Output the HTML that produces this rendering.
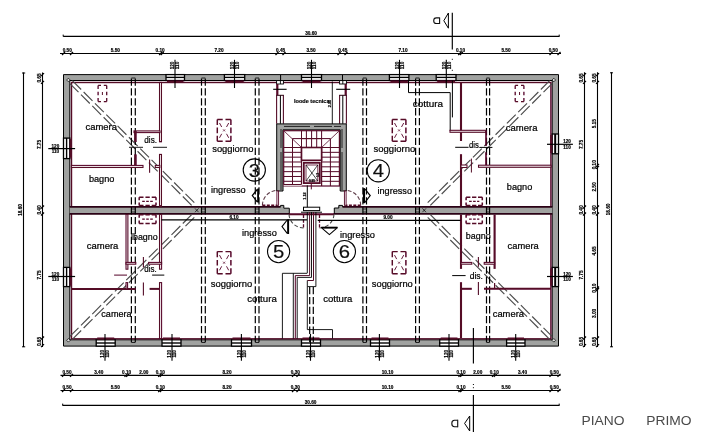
<!DOCTYPE html>
<html><head><meta charset="utf-8"><title>Piano Primo</title>
<style>
html,body{margin:0;padding:0;background:#fff;}
body{width:711px;height:436px;overflow:hidden;}
svg{display:block;font-family:"Liberation Sans",sans-serif;}
</style></head><body>
<svg width="711" height="436" viewBox="0 0 711 436">
<defs><filter id="soft" x="0" y="0" width="711" height="436" filterUnits="userSpaceOnUse"><feGaussianBlur stdDeviation="0.32"/></filter></defs>
<rect width="711" height="436" fill="#fff"/>
<g filter="url(#soft)">
<path d="M63.5,74.6H558.5V346.1H63.5Z M69.8,80.5V339.8H552.2V80.5Z" fill="#a0a2a0" fill-rule="evenodd" stroke="#000" stroke-width="1"/>
<rect x="71.5" y="82.5" width="479.4" height="256.3" fill="none" stroke="#540827" stroke-width="1.4"/>
<path d="M69.7,207 H280.6 V205.4 H283.8 V208.2 H289.3 V213.4 H69.7 Z" fill="#a0a2a0"/>
<path d="M552.3,207 H342.5 V205.4 H338.8 V208 H334.3 V213.4 H552.3 Z" fill="#a0a2a0"/>
<line x1="69.7" y1="206.8" x2="280.6" y2="206.8" stroke="#2a0512" stroke-width="1.8" />
<line x1="69.7" y1="213.8" x2="290" y2="213.8" stroke="#2a0512" stroke-width="1.8" />
<line x1="342.5" y1="206.8" x2="552.3" y2="206.8" stroke="#2a0512" stroke-width="1.8" />
<line x1="333.5" y1="213.8" x2="552.3" y2="213.8" stroke="#2a0512" stroke-width="1.8" />
<path d="M280.6,206.8 V205.4 H283.8 V208.2 H289.3 V213.5" fill="none" stroke="#000" stroke-width="1"/>
<path d="M342.5,206.8 V205.4 H338.8 V208 H334.3 V213.5" fill="none" stroke="#000" stroke-width="1"/>
<line x1="289" y1="214.3" x2="334" y2="214.3" stroke="#540827" stroke-width="2" />
<rect x="166" y="74.6" width="18.5" height="5.900000000000006" fill="#fff" stroke="#000" stroke-width="1.3" />
<line x1="166" y1="77.4" x2="184.5" y2="77.4" stroke="#000" stroke-width="1.4" />
<line x1="167" y1="81.6" x2="183.5" y2="81.6" stroke="#540827" stroke-width="2.2" />
<line x1="175" y1="59.8" x2="175" y2="88" stroke="#000" stroke-width="1.1" />
<text transform="translate(174.3,65.5) rotate(-90)" font-size="4.6" text-anchor="middle" fill="#000" font-weight="bold" stroke="#000" stroke-width="0.18">120</text>
<text transform="translate(179.2,65.5) rotate(-90)" font-size="4.6" text-anchor="middle" fill="#000" font-weight="bold" stroke="#000" stroke-width="0.18">110</text>
<rect x="224.4" y="74.6" width="20.299999999999983" height="5.900000000000006" fill="#fff" stroke="#000" stroke-width="1.3" />
<line x1="224.4" y1="77.4" x2="244.7" y2="77.4" stroke="#000" stroke-width="1.4" />
<line x1="225.4" y1="81.6" x2="243.7" y2="81.6" stroke="#540827" stroke-width="2.2" />
<line x1="234.5" y1="59.8" x2="234.5" y2="88" stroke="#000" stroke-width="1.1" />
<text transform="translate(233.8,65.5) rotate(-90)" font-size="4.6" text-anchor="middle" fill="#000" font-weight="bold" stroke="#000" stroke-width="0.18">120</text>
<text transform="translate(238.7,65.5) rotate(-90)" font-size="4.6" text-anchor="middle" fill="#000" font-weight="bold" stroke="#000" stroke-width="0.18">110</text>
<rect x="301.5" y="74.6" width="20.0" height="5.900000000000006" fill="#fff" stroke="#000" stroke-width="1.3" />
<line x1="301.5" y1="77.4" x2="321.5" y2="77.4" stroke="#000" stroke-width="1.4" />
<line x1="302.5" y1="81.6" x2="320.5" y2="81.6" stroke="#540827" stroke-width="2.2" />
<line x1="311.5" y1="59.8" x2="311.5" y2="88" stroke="#000" stroke-width="1.1" />
<text transform="translate(310.8,65.5) rotate(-90)" font-size="4.6" text-anchor="middle" fill="#000" font-weight="bold" stroke="#000" stroke-width="0.18">120</text>
<text transform="translate(315.7,65.5) rotate(-90)" font-size="4.6" text-anchor="middle" fill="#000" font-weight="bold" stroke="#000" stroke-width="0.18">110</text>
<rect x="389.4" y="74.6" width="19.5" height="5.900000000000006" fill="#fff" stroke="#000" stroke-width="1.3" />
<line x1="389.4" y1="77.4" x2="408.9" y2="77.4" stroke="#000" stroke-width="1.4" />
<line x1="390.4" y1="81.6" x2="407.9" y2="81.6" stroke="#540827" stroke-width="2.2" />
<line x1="399.5" y1="59.8" x2="399.5" y2="88" stroke="#000" stroke-width="1.1" />
<text transform="translate(398.8,65.5) rotate(-90)" font-size="4.6" text-anchor="middle" fill="#000" font-weight="bold" stroke="#000" stroke-width="0.18">120</text>
<text transform="translate(403.7,65.5) rotate(-90)" font-size="4.6" text-anchor="middle" fill="#000" font-weight="bold" stroke="#000" stroke-width="0.18">110</text>
<rect x="436.2" y="74.6" width="19.80000000000001" height="5.900000000000006" fill="#fff" stroke="#000" stroke-width="1.3" />
<line x1="436.2" y1="77.4" x2="456" y2="77.4" stroke="#000" stroke-width="1.4" />
<line x1="437.2" y1="81.6" x2="455" y2="81.6" stroke="#540827" stroke-width="2.2" />
<line x1="446.3" y1="59.8" x2="446.3" y2="88" stroke="#000" stroke-width="1.1" />
<text transform="translate(445.6,65.5) rotate(-90)" font-size="4.6" text-anchor="middle" fill="#000" font-weight="bold" stroke="#000" stroke-width="0.18">120</text>
<text transform="translate(450.5,65.5) rotate(-90)" font-size="4.6" text-anchor="middle" fill="#000" font-weight="bold" stroke="#000" stroke-width="0.18">110</text>
<rect x="96.2" y="339.8" width="19.0" height="6.300000000000011" fill="#fff" stroke="#000" stroke-width="1.3" />
<line x1="96.2" y1="343" x2="115.2" y2="343" stroke="#000" stroke-width="1.4" />
<line x1="97.2" y1="338.6" x2="114.2" y2="338.6" stroke="#540827" stroke-width="2.2" />
<line x1="105" y1="334" x2="105" y2="360.8" stroke="#000" stroke-width="1.1" />
<text transform="translate(104.3,353.8) rotate(-90)" font-size="4.6" text-anchor="middle" fill="#000" font-weight="bold" stroke="#000" stroke-width="0.18">120</text>
<text transform="translate(109.2,353.8) rotate(-90)" font-size="4.6" text-anchor="middle" fill="#000" font-weight="bold" stroke="#000" stroke-width="0.18">110</text>
<rect x="162" y="339.8" width="19" height="6.300000000000011" fill="#fff" stroke="#000" stroke-width="1.3" />
<line x1="162" y1="343" x2="181" y2="343" stroke="#000" stroke-width="1.4" />
<line x1="163" y1="338.6" x2="180" y2="338.6" stroke="#540827" stroke-width="2.2" />
<line x1="172" y1="334" x2="172" y2="360.8" stroke="#000" stroke-width="1.1" />
<text transform="translate(171.3,353.8) rotate(-90)" font-size="4.6" text-anchor="middle" fill="#000" font-weight="bold" stroke="#000" stroke-width="0.18">120</text>
<text transform="translate(176.2,353.8) rotate(-90)" font-size="4.6" text-anchor="middle" fill="#000" font-weight="bold" stroke="#000" stroke-width="0.18">110</text>
<rect x="231.5" y="339.8" width="20.0" height="6.300000000000011" fill="#fff" stroke="#000" stroke-width="1.3" />
<line x1="231.5" y1="343" x2="251.5" y2="343" stroke="#000" stroke-width="1.4" />
<line x1="232.5" y1="338.6" x2="250.5" y2="338.6" stroke="#540827" stroke-width="2.2" />
<line x1="241.4" y1="334" x2="241.4" y2="360.8" stroke="#000" stroke-width="1.1" />
<text transform="translate(240.70000000000002,353.8) rotate(-90)" font-size="4.6" text-anchor="middle" fill="#000" font-weight="bold" stroke="#000" stroke-width="0.18">120</text>
<text transform="translate(245.6,353.8) rotate(-90)" font-size="4.6" text-anchor="middle" fill="#000" font-weight="bold" stroke="#000" stroke-width="0.18">110</text>
<rect x="301.5" y="339.8" width="19.0" height="6.300000000000011" fill="#fff" stroke="#000" stroke-width="1.3" />
<line x1="301.5" y1="343" x2="320.5" y2="343" stroke="#000" stroke-width="1.4" />
<line x1="302.5" y1="338.6" x2="319.5" y2="338.6" stroke="#540827" stroke-width="2.2" />
<line x1="310.5" y1="334" x2="310.5" y2="360.8" stroke="#000" stroke-width="1.1" />
<text transform="translate(309.8,353.8) rotate(-90)" font-size="4.6" text-anchor="middle" fill="#000" font-weight="bold" stroke="#000" stroke-width="0.18">120</text>
<text transform="translate(314.7,353.8) rotate(-90)" font-size="4.6" text-anchor="middle" fill="#000" font-weight="bold" stroke="#000" stroke-width="0.18">110</text>
<rect x="370.5" y="339.8" width="19.0" height="6.300000000000011" fill="#fff" stroke="#000" stroke-width="1.3" />
<line x1="370.5" y1="343" x2="389.5" y2="343" stroke="#000" stroke-width="1.4" />
<line x1="371.5" y1="338.6" x2="388.5" y2="338.6" stroke="#540827" stroke-width="2.2" />
<line x1="379.4" y1="334" x2="379.4" y2="360.8" stroke="#000" stroke-width="1.1" />
<text transform="translate(378.7,353.8) rotate(-90)" font-size="4.6" text-anchor="middle" fill="#000" font-weight="bold" stroke="#000" stroke-width="0.18">120</text>
<text transform="translate(383.59999999999997,353.8) rotate(-90)" font-size="4.6" text-anchor="middle" fill="#000" font-weight="bold" stroke="#000" stroke-width="0.18">110</text>
<rect x="439.7" y="339.8" width="18.80000000000001" height="6.300000000000011" fill="#fff" stroke="#000" stroke-width="1.3" />
<line x1="439.7" y1="343" x2="458.5" y2="343" stroke="#000" stroke-width="1.4" />
<line x1="440.7" y1="338.6" x2="457.5" y2="338.6" stroke="#540827" stroke-width="2.2" />
<line x1="449" y1="334" x2="449" y2="360.8" stroke="#000" stroke-width="1.1" />
<text transform="translate(448.3,353.8) rotate(-90)" font-size="4.6" text-anchor="middle" fill="#000" font-weight="bold" stroke="#000" stroke-width="0.18">120</text>
<text transform="translate(453.2,353.8) rotate(-90)" font-size="4.6" text-anchor="middle" fill="#000" font-weight="bold" stroke="#000" stroke-width="0.18">110</text>
<rect x="506.6" y="339.8" width="18.399999999999977" height="6.300000000000011" fill="#fff" stroke="#000" stroke-width="1.3" />
<line x1="506.6" y1="343" x2="525" y2="343" stroke="#000" stroke-width="1.4" />
<line x1="507.6" y1="338.6" x2="524" y2="338.6" stroke="#540827" stroke-width="2.2" />
<line x1="515.7" y1="334" x2="515.7" y2="360.8" stroke="#000" stroke-width="1.1" />
<text transform="translate(515.0,353.8) rotate(-90)" font-size="4.6" text-anchor="middle" fill="#000" font-weight="bold" stroke="#000" stroke-width="0.18">120</text>
<text transform="translate(519.9000000000001,353.8) rotate(-90)" font-size="4.6" text-anchor="middle" fill="#000" font-weight="bold" stroke="#000" stroke-width="0.18">110</text>
<rect x="63.5" y="138.1" width="6.299999999999997" height="20.5" fill="#fff" stroke="#000" stroke-width="1.3" />
<line x1="66.6" y1="138.1" x2="66.6" y2="158.6" stroke="#000" stroke-width="1.4" />
<line x1="70.8" y1="139.1" x2="70.8" y2="157.6" stroke="#540827" stroke-width="2.2" />
<line x1="48.3" y1="148.6" x2="75.1" y2="148.6" stroke="#000" stroke-width="1.2" />
<text x="55.4" y="147.7" font-size="4.6" text-anchor="middle" fill="#000" font-weight="bold" stroke="#000" stroke-width="0.18" >120</text>
<text x="55.4" y="153.2" font-size="4.6" text-anchor="middle" fill="#000" font-weight="bold" stroke="#000" stroke-width="0.18" >110</text>
<rect x="63.5" y="267.4" width="6.299999999999997" height="19.200000000000045" fill="#fff" stroke="#000" stroke-width="1.3" />
<line x1="66.6" y1="267.4" x2="66.6" y2="286.6" stroke="#000" stroke-width="1.4" />
<line x1="70.8" y1="268.4" x2="70.8" y2="285.6" stroke="#540827" stroke-width="2.2" />
<line x1="48.3" y1="276.5" x2="75.1" y2="276.5" stroke="#000" stroke-width="1.2" />
<text x="55.4" y="275.6" font-size="4.6" text-anchor="middle" fill="#000" font-weight="bold" stroke="#000" stroke-width="0.18" >120</text>
<text x="55.4" y="281.1" font-size="4.6" text-anchor="middle" fill="#000" font-weight="bold" stroke="#000" stroke-width="0.18" >110</text>
<rect x="552.2" y="134" width="6.2999999999999545" height="19.80000000000001" fill="#fff" stroke="#000" stroke-width="1.3" />
<line x1="555.2" y1="134" x2="555.2" y2="153.8" stroke="#000" stroke-width="2" />
<line x1="551.2" y1="135" x2="551.2" y2="152.8" stroke="#540827" stroke-width="2.2" />
<line x1="547" y1="144.3" x2="572.9" y2="144.3" stroke="#000" stroke-width="1.2" />
<text x="567" y="143.4" font-size="4.6" text-anchor="middle" fill="#000" font-weight="bold" stroke="#000" stroke-width="0.18" >120</text>
<text x="567" y="148.9" font-size="4.6" text-anchor="middle" fill="#000" font-weight="bold" stroke="#000" stroke-width="0.18" >110</text>
<rect x="552.2" y="267.4" width="6.2999999999999545" height="19.200000000000045" fill="#fff" stroke="#000" stroke-width="1.3" />
<line x1="555.2" y1="267.4" x2="555.2" y2="286.6" stroke="#000" stroke-width="2" />
<line x1="551.2" y1="268.4" x2="551.2" y2="285.6" stroke="#540827" stroke-width="2.2" />
<line x1="547" y1="276.5" x2="572.9" y2="276.5" stroke="#000" stroke-width="1.2" />
<text x="567" y="275.6" font-size="4.6" text-anchor="middle" fill="#000" font-weight="bold" stroke="#000" stroke-width="0.18" >120</text>
<text x="567" y="281.1" font-size="4.6" text-anchor="middle" fill="#000" font-weight="bold" stroke="#000" stroke-width="0.18" >110</text>
<line x1="72.34" y1="80.66" x2="196.64" y2="204.96" stroke="#4c4c4c" stroke-width="1.15" stroke-dasharray="12.5 3.5"/>
<line x1="69.66" y1="83.34" x2="193.96" y2="207.64" stroke="#4c4c4c" stroke-width="1.15" stroke-dasharray="12.5 3.5"/>
<line x1="69.66" y1="336.66" x2="193.36" y2="212.96" stroke="#4c4c4c" stroke-width="1.15" stroke-dasharray="12.5 3.5"/>
<line x1="72.34" y1="339.34" x2="196.04" y2="215.64" stroke="#4c4c4c" stroke-width="1.15" stroke-dasharray="12.5 3.5"/>
<line x1="552.34" y1="83.34" x2="428.04" y2="207.64" stroke="#4c4c4c" stroke-width="1.15" stroke-dasharray="12.5 3.5"/>
<line x1="549.66" y1="80.66" x2="425.36" y2="204.96" stroke="#4c4c4c" stroke-width="1.15" stroke-dasharray="12.5 3.5"/>
<line x1="549.66" y1="339.34" x2="425.96" y2="215.64" stroke="#4c4c4c" stroke-width="1.15" stroke-dasharray="12.5 3.5"/>
<line x1="552.34" y1="336.66" x2="428.64" y2="212.96" stroke="#4c4c4c" stroke-width="1.15" stroke-dasharray="12.5 3.5"/>
<line x1="195.0" y1="208.4" x2="198.60000000000002" y2="212.2" stroke="#000" stroke-width="0.7" />
<line x1="198.60000000000002" y1="208.4" x2="195.0" y2="212.2" stroke="#000" stroke-width="0.7" />
<line x1="422.4" y1="208.4" x2="426.0" y2="212.2" stroke="#000" stroke-width="0.7" />
<line x1="426.0" y1="208.4" x2="422.4" y2="212.2" stroke="#000" stroke-width="0.7" />
<path d="M66.60000000000001,80L68.4,78.2L70.2,80L68.4,81.8Z" fill="#ddd" stroke="#000" stroke-width="0.7"/>
<path d="M66.60000000000001,340.3L68.4,338.5L70.2,340.3L68.4,342.1Z" fill="#ddd" stroke="#000" stroke-width="0.7"/>
<path d="M552.0,80L553.8,78.2L555.5999999999999,80L553.8,81.8Z" fill="#ddd" stroke="#000" stroke-width="0.7"/>
<path d="M552.0,340.3L553.8,338.5L555.5999999999999,340.3L553.8,342.1Z" fill="#ddd" stroke="#000" stroke-width="0.7"/>
<line x1="131.4" y1="78.4" x2="131.4" y2="342.2" stroke="#000" stroke-width="1.2" stroke-dasharray="7.3 2.6"/>
<line x1="135.3" y1="78.4" x2="135.3" y2="342.2" stroke="#000" stroke-width="1.2" stroke-dasharray="7.3 2.6"/>
<line x1="131.4" y1="78" x2="135.3" y2="78" stroke="#000" stroke-width="0.8" />
<line x1="131.4" y1="342.5" x2="135.3" y2="342.5" stroke="#000" stroke-width="0.8" />
<line x1="131.4" y1="209" x2="135.3" y2="209" stroke="#000" stroke-width="0.7" />
<line x1="131.4" y1="212" x2="135.3" y2="212" stroke="#000" stroke-width="0.7" />
<line x1="201.5" y1="78.4" x2="201.5" y2="342.2" stroke="#000" stroke-width="1.2" stroke-dasharray="7.3 2.6"/>
<line x1="205.3" y1="78.4" x2="205.3" y2="342.2" stroke="#000" stroke-width="1.2" stroke-dasharray="7.3 2.6"/>
<line x1="201.5" y1="78" x2="205.3" y2="78" stroke="#000" stroke-width="0.8" />
<line x1="201.5" y1="342.5" x2="205.3" y2="342.5" stroke="#000" stroke-width="0.8" />
<line x1="201.5" y1="209" x2="205.3" y2="209" stroke="#000" stroke-width="0.7" />
<line x1="201.5" y1="212" x2="205.3" y2="212" stroke="#000" stroke-width="0.7" />
<line x1="255.3" y1="78.4" x2="255.3" y2="342.2" stroke="#000" stroke-width="1.2" stroke-dasharray="7.3 2.6"/>
<line x1="259" y1="78.4" x2="259" y2="342.2" stroke="#000" stroke-width="1.2" stroke-dasharray="7.3 2.6"/>
<line x1="255.3" y1="78" x2="259" y2="78" stroke="#000" stroke-width="0.8" />
<line x1="255.3" y1="342.5" x2="259" y2="342.5" stroke="#000" stroke-width="0.8" />
<line x1="255.3" y1="209" x2="259" y2="209" stroke="#000" stroke-width="0.7" />
<line x1="255.3" y1="212" x2="259" y2="212" stroke="#000" stroke-width="0.7" />
<line x1="362.9" y1="78.4" x2="362.9" y2="342.2" stroke="#000" stroke-width="1.2" stroke-dasharray="7.3 2.6"/>
<line x1="366.5" y1="78.4" x2="366.5" y2="342.2" stroke="#000" stroke-width="1.2" stroke-dasharray="7.3 2.6"/>
<line x1="362.9" y1="78" x2="366.5" y2="78" stroke="#000" stroke-width="0.8" />
<line x1="362.9" y1="342.5" x2="366.5" y2="342.5" stroke="#000" stroke-width="0.8" />
<line x1="362.9" y1="209" x2="366.5" y2="209" stroke="#000" stroke-width="0.7" />
<line x1="362.9" y1="212" x2="366.5" y2="212" stroke="#000" stroke-width="0.7" />
<line x1="415.6" y1="78.4" x2="415.6" y2="342.2" stroke="#000" stroke-width="1.2" stroke-dasharray="7.3 2.6"/>
<line x1="419.4" y1="78.4" x2="419.4" y2="342.2" stroke="#000" stroke-width="1.2" stroke-dasharray="7.3 2.6"/>
<line x1="415.6" y1="78" x2="419.4" y2="78" stroke="#000" stroke-width="0.8" />
<line x1="415.6" y1="342.5" x2="419.4" y2="342.5" stroke="#000" stroke-width="0.8" />
<line x1="415.6" y1="209" x2="419.4" y2="209" stroke="#000" stroke-width="0.7" />
<line x1="415.6" y1="212" x2="419.4" y2="212" stroke="#000" stroke-width="0.7" />
<line x1="486.5" y1="78.4" x2="486.5" y2="342.2" stroke="#000" stroke-width="1.2" stroke-dasharray="7.3 2.6"/>
<line x1="489.6" y1="78.4" x2="489.6" y2="342.2" stroke="#000" stroke-width="1.2" stroke-dasharray="7.3 2.6"/>
<line x1="486.5" y1="78" x2="489.6" y2="78" stroke="#000" stroke-width="0.8" />
<line x1="486.5" y1="342.5" x2="489.6" y2="342.5" stroke="#000" stroke-width="0.8" />
<line x1="486.5" y1="209" x2="489.6" y2="209" stroke="#000" stroke-width="0.7" />
<line x1="486.5" y1="212" x2="489.6" y2="212" stroke="#000" stroke-width="0.7" />
<line x1="309.7" y1="287" x2="309.7" y2="342.2" stroke="#000" stroke-width="1.2" stroke-dasharray="7.3 2.6"/>
<line x1="313.3" y1="287" x2="313.3" y2="342.2" stroke="#000" stroke-width="1.2" stroke-dasharray="7.3 2.6"/>
<rect x="159.5" y="82.4" width="2.0" height="59.400000000000006" fill="#efe6e9" stroke="#540827" stroke-width="1.05" />
<rect x="159.5" y="154.4" width="2.0" height="52.099999999999994" fill="#efe6e9" stroke="#540827" stroke-width="1.05" />
<rect x="134" y="130.9" width="26" height="1.6999999999999886" fill="#efe6e9" stroke="#540827" stroke-width="1.05" />
<line x1="135.4" y1="131" x2="135.4" y2="142" stroke="#540827" stroke-width="2.6" />
<line x1="135.4" y1="154.4" x2="135.4" y2="165.4" stroke="#540827" stroke-width="2.6" />
<rect x="71.4" y="165.4" width="71.6" height="2.0999999999999943" fill="#efe6e9" stroke="#540827" stroke-width="1.05" />
<line x1="129" y1="147.3" x2="143" y2="147.3" stroke="#000" stroke-width="0.9" />
<line x1="153" y1="147.3" x2="167" y2="147.3" stroke="#000" stroke-width="0.9" />
<line x1="149.6" y1="159.4" x2="149.6" y2="172.7" stroke="#540827" stroke-width="1.1" />
<rect x="155.3" y="165.4" width="4.5" height="2.0999999999999943" fill="#efe6e9" stroke="#540827" stroke-width="1.05" />
<line x1="461" y1="82" x2="461" y2="141" stroke="#540827" stroke-width="2.1" />
<line x1="461" y1="154.2" x2="461" y2="206.5" stroke="#540827" stroke-width="2.1" />
<path d="M408.5,80.5 V92.6 H450.2 V131" fill="none" stroke="#000" stroke-width="1"/>
<line x1="452.4" y1="80.5" x2="452.4" y2="117.4" stroke="#000" stroke-width="1" />
<rect x="450" y="130.3" width="36" height="2.0" fill="#efe6e9" stroke="#540827" stroke-width="1.05" />
<line x1="486" y1="131" x2="486" y2="146" stroke="#540827" stroke-width="1.6" />
<line x1="486" y1="152.3" x2="486" y2="166.2" stroke="#540827" stroke-width="1.6" />
<rect x="478.5" y="165.2" width="72.5" height="2.1000000000000227" fill="#efe6e9" stroke="#540827" stroke-width="1.05" />
<rect x="461" y="165" width="6" height="2.5" fill="#fff" stroke="#540827" stroke-width="1" />
<line x1="455.2" y1="147.3" x2="468.6" y2="147.3" stroke="#000" stroke-width="1" />
<line x1="480" y1="147.4" x2="492.4" y2="147.4" stroke="#000" stroke-width="1" />
<line x1="471.4" y1="158.6" x2="471.4" y2="172.5" stroke="#540827" stroke-width="1" />
<rect x="126" y="214.5" width="1.9000000000000057" height="54.69999999999999" fill="#efe6e9" stroke="#540827" stroke-width="1.05" />
<rect x="159.5" y="214.5" width="2.0999999999999943" height="54.69999999999999" fill="#efe6e9" stroke="#540827" stroke-width="1.05" />
<rect x="126" y="262.4" width="9.800000000000011" height="1.8000000000000114" fill="#efe6e9" stroke="#540827" stroke-width="1.05" />
<rect x="148.6" y="262.4" width="13.0" height="1.8000000000000114" fill="#efe6e9" stroke="#540827" stroke-width="1.05" />
<line x1="71.4" y1="288.9" x2="135.8" y2="288.9" stroke="#540827" stroke-width="2" />
<line x1="149.6" y1="288.9" x2="159.5" y2="288.9" stroke="#540827" stroke-width="2" />
<rect x="159.5" y="282.6" width="2.0999999999999943" height="55.89999999999998" fill="#efe6e9" stroke="#540827" stroke-width="1.05" />
<rect x="126" y="282.6" width="1.5999999999999943" height="6.2999999999999545" fill="#efe6e9" stroke="#540827" stroke-width="1.05" />
<line x1="143.4" y1="282.6" x2="143.4" y2="295.6" stroke="#540827" stroke-width="1.1" />
<line x1="143.4" y1="257" x2="143.4" y2="267.2" stroke="#540827" stroke-width="1.1" />
<line x1="114.1" y1="275.1" x2="127" y2="275.1" stroke="#540827" stroke-width="1" />
<line x1="152.1" y1="275.1" x2="164.3" y2="275.1" stroke="#000" stroke-width="1" />
<line x1="461" y1="214.5" x2="461" y2="268.9" stroke="#540827" stroke-width="2.1" />
<line x1="494.6" y1="214.5" x2="494.6" y2="268.9" stroke="#540827" stroke-width="2.1" />
<rect x="461" y="262.4" width="10.800000000000011" height="1.8000000000000114" fill="#efe6e9" stroke="#540827" stroke-width="1.05" />
<rect x="484.2" y="262.4" width="10.400000000000034" height="1.8000000000000114" fill="#efe6e9" stroke="#540827" stroke-width="1.05" />
<line x1="461" y1="282.2" x2="461" y2="338" stroke="#540827" stroke-width="2.1" />
<line x1="461" y1="288.8" x2="471.8" y2="288.8" stroke="#540827" stroke-width="2" />
<line x1="484" y1="288.8" x2="551" y2="288.8" stroke="#540827" stroke-width="2" />
<line x1="494.6" y1="283" x2="494.6" y2="288.8" stroke="#540827" stroke-width="1.2" />
<line x1="478.4" y1="257" x2="478.4" y2="266.8" stroke="#540827" stroke-width="1.1" />
<line x1="478.4" y1="282" x2="478.4" y2="295" stroke="#540827" stroke-width="1.1" />
<line x1="452.2" y1="275.6" x2="465.6" y2="275.6" stroke="#000" stroke-width="1" />
<line x1="217.3" y1="119.5" x2="230.9" y2="119.5" stroke="#540827" stroke-width="1.45" stroke-dasharray="5.4 2.80"/>
<line x1="217.3" y1="141.3" x2="230.9" y2="141.3" stroke="#540827" stroke-width="1.45" stroke-dasharray="5.4 2.80"/>
<line x1="217.3" y1="119.5" x2="217.3" y2="141.3" stroke="#540827" stroke-width="1.45" stroke-dasharray="5.6 2.50"/>
<line x1="230.9" y1="119.5" x2="230.9" y2="141.3" stroke="#540827" stroke-width="1.45" stroke-dasharray="5.6 2.50"/>
<line x1="219.50000000000003" y1="123.0" x2="221.70000000000002" y2="127.0" stroke="#540827" stroke-width="0.9" />
<line x1="219.50000000000003" y1="137.8" x2="221.70000000000002" y2="133.8" stroke="#540827" stroke-width="0.9" />
<line x1="228.70000000000002" y1="123.0" x2="226.50000000000003" y2="127.0" stroke="#540827" stroke-width="0.9" />
<line x1="228.70000000000002" y1="137.8" x2="226.50000000000003" y2="133.8" stroke="#540827" stroke-width="0.9" />
<line x1="223.10000000000002" y1="129.4" x2="225.10000000000002" y2="131.4" stroke="#540827" stroke-width="0.7" />
<line x1="225.10000000000002" y1="129.4" x2="223.10000000000002" y2="131.4" stroke="#540827" stroke-width="0.7" />
<line x1="392.3" y1="119.5" x2="405.9" y2="119.5" stroke="#540827" stroke-width="1.45" stroke-dasharray="5.4 2.80"/>
<line x1="392.3" y1="141.3" x2="405.9" y2="141.3" stroke="#540827" stroke-width="1.45" stroke-dasharray="5.4 2.80"/>
<line x1="392.3" y1="119.5" x2="392.3" y2="141.3" stroke="#540827" stroke-width="1.45" stroke-dasharray="5.6 2.50"/>
<line x1="405.9" y1="119.5" x2="405.9" y2="141.3" stroke="#540827" stroke-width="1.45" stroke-dasharray="5.6 2.50"/>
<line x1="394.50000000000006" y1="123.0" x2="396.70000000000005" y2="127.0" stroke="#540827" stroke-width="0.9" />
<line x1="394.50000000000006" y1="137.8" x2="396.70000000000005" y2="133.8" stroke="#540827" stroke-width="0.9" />
<line x1="403.7" y1="123.0" x2="401.5" y2="127.0" stroke="#540827" stroke-width="0.9" />
<line x1="403.7" y1="137.8" x2="401.5" y2="133.8" stroke="#540827" stroke-width="0.9" />
<line x1="398.1" y1="129.4" x2="400.1" y2="131.4" stroke="#540827" stroke-width="0.7" />
<line x1="400.1" y1="129.4" x2="398.1" y2="131.4" stroke="#540827" stroke-width="0.7" />
<line x1="217.3" y1="251.6" x2="230.9" y2="251.6" stroke="#540827" stroke-width="1.45" stroke-dasharray="5.4 2.80"/>
<line x1="217.3" y1="273.8" x2="230.9" y2="273.8" stroke="#540827" stroke-width="1.45" stroke-dasharray="5.4 2.80"/>
<line x1="217.3" y1="251.6" x2="217.3" y2="273.8" stroke="#540827" stroke-width="1.45" stroke-dasharray="5.6 2.70"/>
<line x1="230.9" y1="251.6" x2="230.9" y2="273.8" stroke="#540827" stroke-width="1.45" stroke-dasharray="5.6 2.70"/>
<line x1="219.50000000000003" y1="255.09999999999997" x2="221.70000000000002" y2="259.09999999999997" stroke="#540827" stroke-width="0.9" />
<line x1="219.50000000000003" y1="270.3" x2="221.70000000000002" y2="266.3" stroke="#540827" stroke-width="0.9" />
<line x1="228.70000000000002" y1="255.09999999999997" x2="226.50000000000003" y2="259.09999999999997" stroke="#540827" stroke-width="0.9" />
<line x1="228.70000000000002" y1="270.3" x2="226.50000000000003" y2="266.3" stroke="#540827" stroke-width="0.9" />
<line x1="223.10000000000002" y1="261.7" x2="225.10000000000002" y2="263.7" stroke="#540827" stroke-width="0.7" />
<line x1="225.10000000000002" y1="261.7" x2="223.10000000000002" y2="263.7" stroke="#540827" stroke-width="0.7" />
<line x1="392.3" y1="251.6" x2="405.9" y2="251.6" stroke="#540827" stroke-width="1.45" stroke-dasharray="5.4 2.80"/>
<line x1="392.3" y1="273.8" x2="405.9" y2="273.8" stroke="#540827" stroke-width="1.45" stroke-dasharray="5.4 2.80"/>
<line x1="392.3" y1="251.6" x2="392.3" y2="273.8" stroke="#540827" stroke-width="1.45" stroke-dasharray="5.6 2.70"/>
<line x1="405.9" y1="251.6" x2="405.9" y2="273.8" stroke="#540827" stroke-width="1.45" stroke-dasharray="5.6 2.70"/>
<line x1="394.50000000000006" y1="255.09999999999997" x2="396.70000000000005" y2="259.09999999999997" stroke="#540827" stroke-width="0.9" />
<line x1="394.50000000000006" y1="270.3" x2="396.70000000000005" y2="266.3" stroke="#540827" stroke-width="0.9" />
<line x1="403.7" y1="255.09999999999997" x2="401.5" y2="259.09999999999997" stroke="#540827" stroke-width="0.9" />
<line x1="403.7" y1="270.3" x2="401.5" y2="266.3" stroke="#540827" stroke-width="0.9" />
<line x1="398.1" y1="261.7" x2="400.1" y2="263.7" stroke="#540827" stroke-width="0.7" />
<line x1="400.1" y1="261.7" x2="398.1" y2="263.7" stroke="#540827" stroke-width="0.7" />
<line x1="98.1" y1="85.4" x2="106.7" y2="85.4" stroke="#540827" stroke-width="1.3" stroke-dasharray="2.9 2.80"/>
<line x1="98.1" y1="101.6" x2="106.7" y2="101.6" stroke="#540827" stroke-width="1.3" stroke-dasharray="2.9 2.80"/>
<line x1="98.1" y1="85.4" x2="98.1" y2="101.6" stroke="#540827" stroke-width="1.3" stroke-dasharray="3.6 2.7"/>
<line x1="106.7" y1="85.4" x2="106.7" y2="101.6" stroke="#540827" stroke-width="1.3" stroke-dasharray="3.6 2.7"/>
<line x1="102.4" y1="92" x2="102.4" y2="95" stroke="#540827" stroke-width="1" />
<line x1="515.2" y1="85.4" x2="523.9" y2="85.4" stroke="#540827" stroke-width="1.3" stroke-dasharray="2.9 2.90"/>
<line x1="515.2" y1="101.6" x2="523.9" y2="101.6" stroke="#540827" stroke-width="1.3" stroke-dasharray="2.9 2.90"/>
<line x1="515.2" y1="85.4" x2="515.2" y2="101.6" stroke="#540827" stroke-width="1.3" stroke-dasharray="3.6 2.7"/>
<line x1="523.9" y1="85.4" x2="523.9" y2="101.6" stroke="#540827" stroke-width="1.3" stroke-dasharray="3.6 2.7"/>
<line x1="519.55" y1="92" x2="519.55" y2="95" stroke="#540827" stroke-width="1" />
<line x1="139.2" y1="197.2" x2="156" y2="197.2" stroke="#540827" stroke-width="1.5" stroke-dasharray="4.3 1.95"/>
<line x1="139.2" y1="205.6" x2="156" y2="205.6" stroke="#540827" stroke-width="1.5" stroke-dasharray="4.3 1.95"/>
<line x1="139.2" y1="197.2" x2="139.2" y2="205.6" stroke="#540827" stroke-width="1.5" stroke-dasharray="3 2.40"/>
<line x1="156" y1="197.2" x2="156" y2="205.6" stroke="#540827" stroke-width="1.5" stroke-dasharray="3 2.40"/>
<line x1="142.2" y1="201.39999999999998" x2="153" y2="201.39999999999998" stroke="#540827" stroke-width="1.1" stroke-dasharray="2.6 1.4"/>
<line x1="139.2" y1="214.8" x2="156" y2="214.8" stroke="#540827" stroke-width="1.5" stroke-dasharray="4.3 1.95"/>
<line x1="139.2" y1="223.4" x2="156" y2="223.4" stroke="#540827" stroke-width="1.5" stroke-dasharray="4.3 1.95"/>
<line x1="139.2" y1="214.8" x2="139.2" y2="223.4" stroke="#540827" stroke-width="1.5" stroke-dasharray="3 2.60"/>
<line x1="156" y1="214.8" x2="156" y2="223.4" stroke="#540827" stroke-width="1.5" stroke-dasharray="3 2.60"/>
<line x1="142.2" y1="219.10000000000002" x2="153" y2="219.10000000000002" stroke="#540827" stroke-width="1.1" stroke-dasharray="2.6 1.4"/>
<line x1="466.1" y1="197.2" x2="482.3" y2="197.2" stroke="#540827" stroke-width="1.5" stroke-dasharray="4.3 1.65"/>
<line x1="466.1" y1="205.6" x2="482.3" y2="205.6" stroke="#540827" stroke-width="1.5" stroke-dasharray="4.3 1.65"/>
<line x1="466.1" y1="197.2" x2="466.1" y2="205.6" stroke="#540827" stroke-width="1.5" stroke-dasharray="3 2.40"/>
<line x1="482.3" y1="197.2" x2="482.3" y2="205.6" stroke="#540827" stroke-width="1.5" stroke-dasharray="3 2.40"/>
<line x1="469.1" y1="201.39999999999998" x2="479.3" y2="201.39999999999998" stroke="#540827" stroke-width="1.1" stroke-dasharray="2.6 1.4"/>
<line x1="466.1" y1="214.8" x2="482.3" y2="214.8" stroke="#540827" stroke-width="1.5" stroke-dasharray="4.3 1.65"/>
<line x1="466.1" y1="223.4" x2="482.3" y2="223.4" stroke="#540827" stroke-width="1.5" stroke-dasharray="4.3 1.65"/>
<line x1="466.1" y1="214.8" x2="466.1" y2="223.4" stroke="#540827" stroke-width="1.5" stroke-dasharray="3 2.60"/>
<line x1="482.3" y1="214.8" x2="482.3" y2="223.4" stroke="#540827" stroke-width="1.5" stroke-dasharray="3 2.60"/>
<line x1="469.1" y1="219.10000000000002" x2="479.3" y2="219.10000000000002" stroke="#540827" stroke-width="1.1" stroke-dasharray="2.6 1.4"/>
<line x1="276.6" y1="95.2" x2="276.6" y2="123.8" stroke="#540827" stroke-width="1.1" />
<line x1="283.4" y1="95.2" x2="283.4" y2="123.8" stroke="#540827" stroke-width="1.1" />
<line x1="280.4" y1="95.2" x2="280.4" y2="123.8" stroke="#000" stroke-width="1" />
<line x1="276.1" y1="95.3" x2="283.9" y2="95.3" stroke="#2a0512" stroke-width="1" />
<rect x="276.6" y="80.6" width="6.7999999999999545" height="3.4" fill="#fff" stroke="#000" stroke-width="0.9" />
<line x1="280.4" y1="80.6" x2="280.4" y2="84" stroke="#000" stroke-width="0.9" />
<line x1="277.3" y1="84" x2="277.3" y2="95.2" stroke="#540827" stroke-width="2.2" />
<line x1="339.6" y1="95.2" x2="339.6" y2="123.8" stroke="#540827" stroke-width="1.1" />
<line x1="346.4" y1="95.2" x2="346.4" y2="123.8" stroke="#540827" stroke-width="1.1" />
<line x1="342.8" y1="95.2" x2="342.8" y2="123.8" stroke="#000" stroke-width="1" />
<line x1="339.1" y1="95.3" x2="346.9" y2="95.3" stroke="#2a0512" stroke-width="1" />
<rect x="339.6" y="80.6" width="6.7999999999999545" height="3.4" fill="#fff" stroke="#000" stroke-width="0.9" />
<line x1="342.8" y1="80.6" x2="342.8" y2="84" stroke="#000" stroke-width="0.9" />
<line x1="345.7" y1="84" x2="345.7" y2="95.2" stroke="#540827" stroke-width="2.2" />
<line x1="273.2" y1="89.3" x2="286.6" y2="89.3" stroke="#000" stroke-width="1.1" />
<line x1="336.2" y1="89.3" x2="350.2" y2="89.3" stroke="#000" stroke-width="1.1" />
<line x1="280.6" y1="75" x2="280.6" y2="80.5" stroke="#000" stroke-width="1" />
<line x1="342.5" y1="75" x2="342.5" y2="80.5" stroke="#000" stroke-width="1" />
<line x1="332.3" y1="81.5" x2="332.3" y2="125" stroke="#000" stroke-width="0.9" />
<path d="M276.7,123.9 H346.3 V191 H340.2 V129.8 H283 V191 H276.7 Z" fill="#a0a2a0" stroke="#000" stroke-width="1"/>
<line x1="281" y1="129" x2="281" y2="148" stroke="#000" stroke-width="0.8" />
<line x1="281" y1="152" x2="281" y2="190" stroke="#000" stroke-width="0.8" />
<line x1="342" y1="129" x2="342" y2="148" stroke="#000" stroke-width="0.8" />
<line x1="342" y1="152" x2="342" y2="190" stroke="#000" stroke-width="0.8" />
<line x1="284" y1="126.4" x2="310" y2="126.4" stroke="#000" stroke-width="0.8" />
<line x1="314" y1="126.4" x2="332" y2="126.4" stroke="#000" stroke-width="0.8" />
<line x1="334" y1="126.4" x2="341" y2="126.4" stroke="#000" stroke-width="0.8" />
<rect x="283.7" y="130.7" width="55.69999999999999" height="55.30000000000001" fill="#fff" stroke="#540827" stroke-width="1.2" />
<path d="M292.5,184.6 V138.6 H330.4 V186" fill="none" stroke="#540827" stroke-width="1"/>
<line x1="301.5" y1="130.7" x2="301.5" y2="147.5" stroke="#540827" stroke-width="1" />
<line x1="306.4" y1="130.7" x2="306.4" y2="147.5" stroke="#540827" stroke-width="1" />
<line x1="311.6" y1="130.7" x2="311.6" y2="147.5" stroke="#540827" stroke-width="1" />
<line x1="316.7" y1="130.7" x2="316.7" y2="147.5" stroke="#540827" stroke-width="1" />
<line x1="321.6" y1="130.7" x2="321.6" y2="147.5" stroke="#540827" stroke-width="1" />
<line x1="301.5" y1="138.6" x2="321.6" y2="138.6" stroke="#540827" stroke-width="1" />
<line x1="283.7" y1="147.5" x2="301.5" y2="147.5" stroke="#540827" stroke-width="1" />
<line x1="321.6" y1="147.5" x2="339.4" y2="147.5" stroke="#540827" stroke-width="1" />
<line x1="283.7" y1="152.33" x2="301.5" y2="152.33" stroke="#540827" stroke-width="1" />
<line x1="321.6" y1="152.33" x2="339.4" y2="152.33" stroke="#540827" stroke-width="1" />
<line x1="283.7" y1="157.16000000000003" x2="301.5" y2="157.16000000000003" stroke="#540827" stroke-width="1" />
<line x1="321.6" y1="157.16000000000003" x2="339.4" y2="157.16000000000003" stroke="#540827" stroke-width="1" />
<line x1="283.7" y1="161.99000000000004" x2="301.5" y2="161.99000000000004" stroke="#540827" stroke-width="1" />
<line x1="321.6" y1="161.99000000000004" x2="339.4" y2="161.99000000000004" stroke="#540827" stroke-width="1" />
<line x1="283.7" y1="166.82000000000005" x2="301.5" y2="166.82000000000005" stroke="#540827" stroke-width="1" />
<line x1="321.6" y1="166.82000000000005" x2="339.4" y2="166.82000000000005" stroke="#540827" stroke-width="1" />
<line x1="283.7" y1="171.65000000000006" x2="301.5" y2="171.65000000000006" stroke="#540827" stroke-width="1" />
<line x1="321.6" y1="171.65000000000006" x2="339.4" y2="171.65000000000006" stroke="#540827" stroke-width="1" />
<line x1="283.7" y1="176.48000000000008" x2="301.5" y2="176.48000000000008" stroke="#540827" stroke-width="1" />
<line x1="321.6" y1="176.48000000000008" x2="339.4" y2="176.48000000000008" stroke="#540827" stroke-width="1" />
<line x1="283.7" y1="181.3100000000001" x2="301.5" y2="181.3100000000001" stroke="#540827" stroke-width="1" />
<line x1="321.6" y1="181.3100000000001" x2="339.4" y2="181.3100000000001" stroke="#540827" stroke-width="1" />
<line x1="301.5" y1="147.5" x2="301.5" y2="184.6" stroke="#540827" stroke-width="1.2" />
<line x1="321.6" y1="147.5" x2="321.6" y2="186" stroke="#540827" stroke-width="1.2" />
<line x1="284.2" y1="131.2" x2="301.5" y2="147.5" stroke="#540827" stroke-width="0.8" />
<line x1="338.9" y1="131.2" x2="321.6" y2="147.5" stroke="#540827" stroke-width="0.8" />
<rect x="283.7" y="184.6" width="18" height="1.6" fill="#fff" stroke="none" stroke-width="1" />
<line x1="283.7" y1="184.6" x2="301.5" y2="184.6" stroke="#540827" stroke-width="1.2" />
<rect x="301.5" y="147.5" width="20.1" height="12.8" fill="#fff" stroke="#540827" stroke-width="1.6" />
<rect x="303.8" y="162.8" width="16" height="20.3" fill="#fff" stroke="#540827" stroke-width="1.8" />
<rect x="306" y="165" width="11.8" height="16" fill="#fff" stroke="#540827" stroke-width="0.8" />
<line x1="306" y1="165" x2="317.8" y2="181" stroke="#000" stroke-width="0.7" />
<line x1="317.8" y1="165" x2="306" y2="181" stroke="#000" stroke-width="0.7" />
<text x="312" y="182.3" font-size="3" text-anchor="middle" fill="#000" font-weight="bold" stroke="#000" stroke-width="0.18" >0.95</text>
<text transform="translate(318.6,175) rotate(-90)" font-size="3" text-anchor="middle" fill="#000" font-weight="bold" stroke="#000" stroke-width="0.18">1.2</text>
<line x1="307.3" y1="185.4" x2="307.3" y2="208" stroke="#000" stroke-width="1" />
<text transform="translate(305.6,196) rotate(-90)" font-size="3.8" text-anchor="middle" fill="#000" font-weight="bold" stroke="#000" stroke-width="0.18">1.18</text>
<line x1="311.3" y1="183.5" x2="311.3" y2="189.4" stroke="#540827" stroke-width="1" />
<path d="M262.40000000000003,205.4 A15.2,15.2 0 0 1 277.6,190.4" fill="none" stroke="#5a3844" stroke-width="1.05" stroke-dasharray="3.8 2"/>
<line x1="262.40000000000003" y1="205.3" x2="277.6" y2="205.3" stroke="#540827" stroke-width="1.5" stroke-dasharray="3 1.4"/>
<path d="M360.7,205.4 A15.2,15.2 0 0 0 345.5,190.4" fill="none" stroke="#5a3844" stroke-width="1.05" stroke-dasharray="3.8 2"/>
<line x1="360.7" y1="205.3" x2="345.5" y2="205.3" stroke="#540827" stroke-width="1.5" stroke-dasharray="3 1.4"/>
<rect x="276.9" y="191" width="1.7" height="14.3" fill="#fff" stroke="#540827" stroke-width="0.9" />
<rect x="344.4" y="191" width="1.7" height="14.3" fill="#fff" stroke="#540827" stroke-width="0.9" />
<path d="M289.0,214.5 A14.5,14.5 0 0 0 303.5,228" fill="none" stroke="#444" stroke-width="1.05" stroke-dasharray="3.8 2.2"/>
<line x1="303.5" y1="214.8" x2="303.5" y2="227.8" stroke="#540827" stroke-width="1.3" stroke-dasharray="3.2 1.5"/>
<path d="M334.0,214.5 A14.5,14.5 0 0 1 319.5,228" fill="none" stroke="#444" stroke-width="1.05" stroke-dasharray="3.8 2.2"/>
<line x1="319.5" y1="214.8" x2="319.5" y2="227.8" stroke="#540827" stroke-width="1.3" stroke-dasharray="3.2 1.5"/>
<rect x="303.5" y="207.2" width="16.2" height="3.4" fill="#fff" stroke="#000" stroke-width="1" />
<line x1="301" y1="212.2" x2="322" y2="212.2" stroke="#000" stroke-width="1" />
<line x1="307.3" y1="212" x2="307.3" y2="273" stroke="#000" stroke-width="0.9" />
<line x1="309.6" y1="212" x2="309.6" y2="273" stroke="#540827" stroke-width="1" />
<line x1="311.5" y1="212" x2="311.5" y2="273" stroke="#000" stroke-width="0.9" />
<line x1="313.5" y1="212" x2="313.5" y2="273" stroke="#540827" stroke-width="1" />
<line x1="315.9" y1="212" x2="315.9" y2="273" stroke="#000" stroke-width="0.9" />
<path d="M282.4,338.5 V273.3 H307.3" fill="none" stroke="#000" stroke-width="0.9"/>
<line x1="293.3" y1="273.3" x2="293.3" y2="338.5" stroke="#000" stroke-width="0.9" />
<path d="M309.6,273 V275.6 H295.3 V338.5" fill="none" stroke="#540827" stroke-width="1"/>
<path d="M311.5,273 V277.4 H297.2 V338.5" fill="none" stroke="#000" stroke-width="0.9"/>
<path d="M313.5,273 V280.5 H307.4" fill="none" stroke="#540827" stroke-width="1"/>
<path d="M315.9,273 V286.6 H307.3 V329.6 H332.5 V338.5" fill="none" stroke="#000" stroke-width="0.9"/>
<line x1="307.3" y1="280.5" x2="307.3" y2="286.6" stroke="#000" stroke-width="0.9" />
<line x1="161.4" y1="219.9" x2="307" y2="219.9" stroke="#000" stroke-width="1.1" />
<line x1="317.7" y1="220.4" x2="460.5" y2="220.4" stroke="#000" stroke-width="1.1" />
<text x="234" y="218.8" font-size="4.7" text-anchor="middle" fill="#000" font-weight="bold" stroke="#000" stroke-width="0.18" >6.10</text>
<text x="388" y="218.8" font-size="4.7" text-anchor="middle" fill="#000" font-weight="bold" stroke="#000" stroke-width="0.18" >9.00</text>
<path d="M258,189 V202.3 M257.2,189.5 L252.3,195.6 L257.2,201.8" fill="none" stroke="#000" stroke-width="1.2"/>
<line x1="258.2" y1="188.6" x2="258.2" y2="202.5" stroke="#000" stroke-width="1.6" />
<path d="M364.3,188.5 V203 M365,189 L370.2,195.6 L365,202.3" fill="none" stroke="#000" stroke-width="1.2"/>
<line x1="364" y1="188.2" x2="364" y2="203.2" stroke="#000" stroke-width="2.2" />
<path d="M288,219.4 V234 M287.2,220 L282,226.6 L287.2,233.4" fill="none" stroke="#000" stroke-width="1.1"/>
<line x1="288.2" y1="219.4" x2="288.2" y2="234" stroke="#000" stroke-width="1.8" />
<path d="M321.3,227.6 H337.5 M322.2,228.4 L329.4,234.6 L336.6,228.4" fill="none" stroke="#000" stroke-width="1.1"/>
<line x1="321.3" y1="227.6" x2="337.5" y2="227.6" stroke="#000" stroke-width="1.8" />
<circle cx="254.3" cy="170" r="11.1" fill="none" stroke="#000" stroke-width="1.1"/>
<text transform="translate(254.3,176.6) scale(1.1,1)" font-size="18.4" text-anchor="middle" fill="#111" stroke="#111" stroke-width="0.2">3</text>
<circle cx="378.3" cy="170.8" r="11.1" fill="none" stroke="#000" stroke-width="1.1"/>
<text transform="translate(378.3,177.4) scale(1.1,1)" font-size="18.4" text-anchor="middle" fill="#111" stroke="#111" stroke-width="0.2">4</text>
<circle cx="278.6" cy="251.6" r="11.1" fill="none" stroke="#000" stroke-width="1.1"/>
<text transform="translate(278.6,258.2) scale(1.1,1)" font-size="18.4" text-anchor="middle" fill="#111" stroke="#111" stroke-width="0.2">5</text>
<circle cx="344.4" cy="251.6" r="11.1" fill="none" stroke="#000" stroke-width="1.1"/>
<text transform="translate(344.4,258.2) scale(1.1,1)" font-size="18.4" text-anchor="middle" fill="#111" stroke="#111" stroke-width="0.2">6</text>
<text x="85.6" y="129.7" font-size="9.3" text-anchor="start" fill="#000" font-weight="normal" textLength="31.4" lengthAdjust="spacingAndGlyphs" stroke="#000" stroke-width="0.22" >camera</text>
<text x="88.9" y="181.6" font-size="9.3" text-anchor="start" fill="#000" font-weight="normal" textLength="25.5" lengthAdjust="spacingAndGlyphs" stroke="#000" stroke-width="0.22" >bagno</text>
<text x="144.3" y="142.5" font-size="9.3" text-anchor="start" fill="#000" font-weight="normal" textLength="12.7" lengthAdjust="spacingAndGlyphs" stroke="#000" stroke-width="0.22" >dis.</text>
<text x="212.2" y="151.7" font-size="9.3" text-anchor="start" fill="#000" font-weight="normal" textLength="41.2" lengthAdjust="spacingAndGlyphs" stroke="#000" stroke-width="0.22" >soggiorno</text>
<text x="210.9" y="193.1" font-size="9.3" text-anchor="start" fill="#000" font-weight="normal" textLength="34.7" lengthAdjust="spacingAndGlyphs" stroke="#000" stroke-width="0.22" >ingresso</text>
<text x="412.7" y="107.4" font-size="9.3" text-anchor="start" fill="#000" font-weight="normal" textLength="30.3" lengthAdjust="spacingAndGlyphs" stroke="#000" stroke-width="0.22" >cottura</text>
<text x="505.8" y="131.0" font-size="9.3" text-anchor="start" fill="#000" font-weight="normal" textLength="31.7" lengthAdjust="spacingAndGlyphs" stroke="#000" stroke-width="0.22" >camera</text>
<text x="468.9" y="147.9" font-size="9.3" text-anchor="start" fill="#000" font-weight="normal" textLength="12" lengthAdjust="spacingAndGlyphs" stroke="#000" stroke-width="0.22" >dis.</text>
<text x="373.6" y="151.7" font-size="9.3" text-anchor="start" fill="#000" font-weight="normal" textLength="41.6" lengthAdjust="spacingAndGlyphs" stroke="#000" stroke-width="0.22" >soggiorno</text>
<text x="377.5" y="194.2" font-size="9.3" text-anchor="start" fill="#000" font-weight="normal" textLength="34.5" lengthAdjust="spacingAndGlyphs" stroke="#000" stroke-width="0.22" >ingresso</text>
<text x="506.8" y="189.6" font-size="9.3" text-anchor="start" fill="#000" font-weight="normal" textLength="25.5" lengthAdjust="spacingAndGlyphs" stroke="#000" stroke-width="0.22" >bagno</text>
<text x="242" y="236.1" font-size="9.3" text-anchor="start" fill="#000" font-weight="normal" textLength="34.8" lengthAdjust="spacingAndGlyphs" stroke="#000" stroke-width="0.22" >ingresso</text>
<text x="340" y="238.2" font-size="9.3" text-anchor="start" fill="#000" font-weight="normal" textLength="35" lengthAdjust="spacingAndGlyphs" stroke="#000" stroke-width="0.22" >ingresso</text>
<text x="131" y="239.9" font-size="9.3" text-anchor="start" fill="#000" font-weight="normal" textLength="26.6" lengthAdjust="spacingAndGlyphs" stroke="#000" stroke-width="0.22" >lbagno</text>
<text x="86.7" y="249.3" font-size="9.3" text-anchor="start" fill="#000" font-weight="normal" textLength="31.7" lengthAdjust="spacingAndGlyphs" stroke="#000" stroke-width="0.22" >camera</text>
<text x="144.3" y="271.9" font-size="9.3" text-anchor="start" fill="#000" font-weight="normal" textLength="12.4" lengthAdjust="spacingAndGlyphs" stroke="#000" stroke-width="0.22" >dis.</text>
<text x="210.8" y="286.7" font-size="9.3" text-anchor="start" fill="#000" font-weight="normal" textLength="41.4" lengthAdjust="spacingAndGlyphs" stroke="#000" stroke-width="0.22" >soggiorno</text>
<text x="371.8" y="286.7" font-size="9.3" text-anchor="start" fill="#000" font-weight="normal" textLength="41" lengthAdjust="spacingAndGlyphs" stroke="#000" stroke-width="0.22" >soggiorno</text>
<text x="247.2" y="302.0" font-size="9.3" text-anchor="start" fill="#000" font-weight="normal" textLength="29.6" lengthAdjust="spacingAndGlyphs" stroke="#000" stroke-width="0.22" >cottura</text>
<text x="323.2" y="302.0" font-size="9.3" text-anchor="start" fill="#000" font-weight="normal" textLength="29.2" lengthAdjust="spacingAndGlyphs" stroke="#000" stroke-width="0.22" >cottura</text>
<text x="101.3" y="317.3" font-size="9.3" text-anchor="start" fill="#000" font-weight="normal" textLength="30.3" lengthAdjust="spacingAndGlyphs" stroke="#000" stroke-width="0.22" >camera</text>
<text x="465.8" y="239.0" font-size="9.3" text-anchor="start" fill="#000" font-weight="normal" textLength="24.8" lengthAdjust="spacingAndGlyphs" stroke="#000" stroke-width="0.22" >bagno</text>
<text x="507.6" y="249.3" font-size="9.3" text-anchor="start" fill="#000" font-weight="normal" textLength="31.2" lengthAdjust="spacingAndGlyphs" stroke="#000" stroke-width="0.22" >camera</text>
<text x="469.7" y="279.4" font-size="9.3" text-anchor="start" fill="#000" font-weight="normal" textLength="13.3" lengthAdjust="spacingAndGlyphs" stroke="#000" stroke-width="0.22" >dis.</text>
<text x="492.7" y="317.1" font-size="9.3" text-anchor="start" fill="#000" font-weight="normal" textLength="31.3" lengthAdjust="spacingAndGlyphs" stroke="#000" stroke-width="0.22" >camera</text>
<text x="294" y="102.6" font-size="6" text-anchor="start" fill="#000" font-weight="bold" textLength="35.5" lengthAdjust="spacingAndGlyphs" stroke="#000" stroke-width="0.18" >loode tecnica</text>
<text transform="translate(331.3,103.5) rotate(-90)" font-size="3.8" text-anchor="middle" fill="#000" font-weight="bold" stroke="#000" stroke-width="0.18">2.55</text>
<line x1="63.2" y1="36.4" x2="559.5" y2="36.4" stroke="#000" stroke-width="1.1" />
<line x1="63.2" y1="34.6" x2="63.2" y2="36.5" stroke="#000" stroke-width="1" />
<line x1="559.2" y1="34.6" x2="559.2" y2="36.5" stroke="#000" stroke-width="1" />
<text x="311" y="35.1" font-size="4.7" text-anchor="middle" fill="#000" font-weight="bold" stroke="#000" stroke-width="0.18" >30.60</text>
<line x1="60" y1="53.5" x2="561" y2="53.5" stroke="#000" stroke-width="1.1" />
<text x="67.2" y="52.2" font-size="4.7" text-anchor="middle" fill="#000" font-weight="bold" stroke="#000" stroke-width="0.18" >0.50</text>
<text x="115.3" y="52.2" font-size="4.7" text-anchor="middle" fill="#000" font-weight="bold" stroke="#000" stroke-width="0.18" >5.50</text>
<text x="160.1" y="52.2" font-size="4.7" text-anchor="middle" fill="#000" font-weight="bold" stroke="#000" stroke-width="0.18" >0.10</text>
<text x="219" y="52.2" font-size="4.7" text-anchor="middle" fill="#000" font-weight="bold" stroke="#000" stroke-width="0.18" >7.20</text>
<text x="280.6" y="52.2" font-size="4.7" text-anchor="middle" fill="#000" font-weight="bold" stroke="#000" stroke-width="0.18" >0.45</text>
<text x="311" y="52.2" font-size="4.7" text-anchor="middle" fill="#000" font-weight="bold" stroke="#000" stroke-width="0.18" >3.50</text>
<text x="342.7" y="52.2" font-size="4.7" text-anchor="middle" fill="#000" font-weight="bold" stroke="#000" stroke-width="0.18" >0.45</text>
<text x="403" y="52.2" font-size="4.7" text-anchor="middle" fill="#000" font-weight="bold" stroke="#000" stroke-width="0.18" >7.10</text>
<text x="460.5" y="52.2" font-size="4.7" text-anchor="middle" fill="#000" font-weight="bold" stroke="#000" stroke-width="0.18" >0.10</text>
<text x="506" y="52.2" font-size="4.7" text-anchor="middle" fill="#000" font-weight="bold" stroke="#000" stroke-width="0.18" >5.50</text>
<text x="553.2" y="52.2" font-size="4.7" text-anchor="middle" fill="#000" font-weight="bold" stroke="#000" stroke-width="0.18" >0.50</text>
<line x1="62.0" y1="55.0" x2="65.0" y2="52.0" stroke="#000" stroke-width="1.2" />
<line x1="70.0" y1="55.0" x2="73.0" y2="52.0" stroke="#000" stroke-width="1.2" />
<line x1="159.1" y1="55.0" x2="162.1" y2="52.0" stroke="#000" stroke-width="1.2" />
<line x1="160.7" y1="55.0" x2="163.7" y2="52.0" stroke="#000" stroke-width="1.2" />
<line x1="275.5" y1="55.0" x2="278.5" y2="52.0" stroke="#000" stroke-width="1.2" />
<line x1="282.5" y1="55.0" x2="285.5" y2="52.0" stroke="#000" stroke-width="1.2" />
<line x1="337.5" y1="55.0" x2="340.5" y2="52.0" stroke="#000" stroke-width="1.2" />
<line x1="344.5" y1="55.0" x2="347.5" y2="52.0" stroke="#000" stroke-width="1.2" />
<line x1="458.2" y1="55.0" x2="461.2" y2="52.0" stroke="#000" stroke-width="1.2" />
<line x1="459.8" y1="55.0" x2="462.8" y2="52.0" stroke="#000" stroke-width="1.2" />
<line x1="549.5" y1="55.0" x2="552.5" y2="52.0" stroke="#000" stroke-width="1.2" />
<line x1="557.5" y1="55.0" x2="560.5" y2="52.0" stroke="#000" stroke-width="1.2" />
<line x1="60.5" y1="375.4" x2="560.5" y2="375.4" stroke="#000" stroke-width="1.1" />
<line x1="60.5" y1="390.5" x2="560.5" y2="390.5" stroke="#000" stroke-width="1.1" />
<line x1="62.5" y1="405.4" x2="559.5" y2="405.4" stroke="#000" stroke-width="1.1" />
<line x1="62.7" y1="403.6" x2="62.7" y2="405.5" stroke="#000" stroke-width="1" />
<line x1="559.2" y1="403.6" x2="559.2" y2="405.5" stroke="#000" stroke-width="1" />
<text x="67" y="374" font-size="4.7" text-anchor="middle" fill="#000" font-weight="bold" stroke="#000" stroke-width="0.18" >0.50</text>
<text x="98.7" y="374" font-size="4.7" text-anchor="middle" fill="#000" font-weight="bold" stroke="#000" stroke-width="0.18" >3.40</text>
<text x="126.6" y="374" font-size="4.7" text-anchor="middle" fill="#000" font-weight="bold" stroke="#000" stroke-width="0.18" >0.10</text>
<text x="143.8" y="374" font-size="4.7" text-anchor="middle" fill="#000" font-weight="bold" stroke="#000" stroke-width="0.18" >2.00</text>
<text x="160.3" y="374" font-size="4.7" text-anchor="middle" fill="#000" font-weight="bold" stroke="#000" stroke-width="0.18" >0.10</text>
<text x="227" y="374" font-size="4.7" text-anchor="middle" fill="#000" font-weight="bold" stroke="#000" stroke-width="0.18" >8.20</text>
<text x="295.3" y="374" font-size="4.7" text-anchor="middle" fill="#000" font-weight="bold" stroke="#000" stroke-width="0.18" >0.30</text>
<text x="387.5" y="374" font-size="4.7" text-anchor="middle" fill="#000" font-weight="bold" stroke="#000" stroke-width="0.18" >10.10</text>
<text x="461" y="374" font-size="4.7" text-anchor="middle" fill="#000" font-weight="bold" stroke="#000" stroke-width="0.18" >0.10</text>
<text x="477.7" y="374" font-size="4.7" text-anchor="middle" fill="#000" font-weight="bold" stroke="#000" stroke-width="0.18" >2.00</text>
<text x="494.2" y="374" font-size="4.7" text-anchor="middle" fill="#000" font-weight="bold" stroke="#000" stroke-width="0.18" >0.10</text>
<text x="522.5" y="374" font-size="4.7" text-anchor="middle" fill="#000" font-weight="bold" stroke="#000" stroke-width="0.18" >3.40</text>
<text x="554.2" y="374" font-size="4.7" text-anchor="middle" fill="#000" font-weight="bold" stroke="#000" stroke-width="0.18" >0.50</text>
<text x="67" y="389.3" font-size="4.7" text-anchor="middle" fill="#000" font-weight="bold" stroke="#000" stroke-width="0.18" >0.50</text>
<text x="115.2" y="389.3" font-size="4.7" text-anchor="middle" fill="#000" font-weight="bold" stroke="#000" stroke-width="0.18" >5.50</text>
<text x="160.3" y="389.3" font-size="4.7" text-anchor="middle" fill="#000" font-weight="bold" stroke="#000" stroke-width="0.18" >0.10</text>
<text x="227" y="389.3" font-size="4.7" text-anchor="middle" fill="#000" font-weight="bold" stroke="#000" stroke-width="0.18" >8.20</text>
<text x="295.3" y="389.3" font-size="4.7" text-anchor="middle" fill="#000" font-weight="bold" stroke="#000" stroke-width="0.18" >0.30</text>
<text x="387.5" y="389.3" font-size="4.7" text-anchor="middle" fill="#000" font-weight="bold" stroke="#000" stroke-width="0.18" >10.10</text>
<text x="461" y="389.3" font-size="4.7" text-anchor="middle" fill="#000" font-weight="bold" stroke="#000" stroke-width="0.18" >0.10</text>
<text x="506" y="389.3" font-size="4.7" text-anchor="middle" fill="#000" font-weight="bold" stroke="#000" stroke-width="0.18" >5.50</text>
<text x="554.2" y="389.3" font-size="4.7" text-anchor="middle" fill="#000" font-weight="bold" stroke="#000" stroke-width="0.18" >0.50</text>
<line x1="62.0" y1="376.9" x2="65.0" y2="373.9" stroke="#000" stroke-width="1.2" />
<line x1="70.0" y1="376.9" x2="73.0" y2="373.9" stroke="#000" stroke-width="1.2" />
<line x1="124.5" y1="376.9" x2="127.5" y2="373.9" stroke="#000" stroke-width="1.2" />
<line x1="126.2" y1="376.9" x2="129.2" y2="373.9" stroke="#000" stroke-width="1.2" />
<line x1="158.2" y1="376.9" x2="161.2" y2="373.9" stroke="#000" stroke-width="1.2" />
<line x1="159.8" y1="376.9" x2="162.8" y2="373.9" stroke="#000" stroke-width="1.2" />
<line x1="292.0" y1="376.9" x2="295.0" y2="373.9" stroke="#000" stroke-width="1.2" />
<line x1="296.5" y1="376.9" x2="299.5" y2="373.9" stroke="#000" stroke-width="1.2" />
<line x1="458.5" y1="376.9" x2="461.5" y2="373.9" stroke="#000" stroke-width="1.2" />
<line x1="460.2" y1="376.9" x2="463.2" y2="373.9" stroke="#000" stroke-width="1.2" />
<line x1="492.0" y1="376.9" x2="495.0" y2="373.9" stroke="#000" stroke-width="1.2" />
<line x1="493.8" y1="376.9" x2="496.8" y2="373.9" stroke="#000" stroke-width="1.2" />
<line x1="549.5" y1="376.9" x2="552.5" y2="373.9" stroke="#000" stroke-width="1.2" />
<line x1="557.5" y1="376.9" x2="560.5" y2="373.9" stroke="#000" stroke-width="1.2" />
<line x1="62.0" y1="392.0" x2="65.0" y2="389.0" stroke="#000" stroke-width="1.2" />
<line x1="70.0" y1="392.0" x2="73.0" y2="389.0" stroke="#000" stroke-width="1.2" />
<line x1="158.2" y1="392.0" x2="161.2" y2="389.0" stroke="#000" stroke-width="1.2" />
<line x1="159.8" y1="392.0" x2="162.8" y2="389.0" stroke="#000" stroke-width="1.2" />
<line x1="292.0" y1="392.0" x2="295.0" y2="389.0" stroke="#000" stroke-width="1.2" />
<line x1="296.5" y1="392.0" x2="299.5" y2="389.0" stroke="#000" stroke-width="1.2" />
<line x1="458.5" y1="392.0" x2="461.5" y2="389.0" stroke="#000" stroke-width="1.2" />
<line x1="460.2" y1="392.0" x2="463.2" y2="389.0" stroke="#000" stroke-width="1.2" />
<line x1="549.5" y1="392.0" x2="552.5" y2="389.0" stroke="#000" stroke-width="1.2" />
<line x1="557.5" y1="392.0" x2="560.5" y2="389.0" stroke="#000" stroke-width="1.2" />
<text x="310.5" y="404.1" font-size="4.7" text-anchor="middle" fill="#000" font-weight="bold" stroke="#000" stroke-width="0.18" >30.60</text>
<line x1="23.5" y1="72.5" x2="23.5" y2="347" stroke="#000" stroke-width="1.1" />
<line x1="42.5" y1="72.5" x2="42.5" y2="347" stroke="#000" stroke-width="1.1" />
<line x1="22" y1="73" x2="25.2" y2="73" stroke="#000" stroke-width="1" />
<line x1="22" y1="346.8" x2="25.2" y2="346.8" stroke="#000" stroke-width="1" />
<text transform="translate(22.3,210) rotate(-90)" font-size="4.7" text-anchor="middle" fill="#000" font-weight="bold" stroke="#000" stroke-width="0.18">18.60</text>
<text transform="translate(41.2,78) rotate(-90)" font-size="4.7" text-anchor="middle" fill="#000" font-weight="bold" stroke="#000" stroke-width="0.18">0.65</text>
<text transform="translate(41.2,144.5) rotate(-90)" font-size="4.7" text-anchor="middle" fill="#000" font-weight="bold" stroke="#000" stroke-width="0.18">7.75</text>
<text transform="translate(41.2,210) rotate(-90)" font-size="4.7" text-anchor="middle" fill="#000" font-weight="bold" stroke="#000" stroke-width="0.18">0.40</text>
<text transform="translate(41.2,275) rotate(-90)" font-size="4.7" text-anchor="middle" fill="#000" font-weight="bold" stroke="#000" stroke-width="0.18">7.75</text>
<text transform="translate(41.2,341.5) rotate(-90)" font-size="4.7" text-anchor="middle" fill="#000" font-weight="bold" stroke="#000" stroke-width="0.18">0.65</text>
<line x1="41.0" y1="76.2" x2="44.0" y2="73.2" stroke="#000" stroke-width="1.2" />
<line x1="41.0" y1="83.9" x2="44.0" y2="80.9" stroke="#000" stroke-width="1.2" />
<line x1="41.0" y1="208.5" x2="44.0" y2="205.5" stroke="#000" stroke-width="1.2" />
<line x1="41.0" y1="215.5" x2="44.0" y2="212.5" stroke="#000" stroke-width="1.2" />
<line x1="41.0" y1="339.5" x2="44.0" y2="336.5" stroke="#000" stroke-width="1.2" />
<line x1="41.0" y1="347.2" x2="44.0" y2="344.2" stroke="#000" stroke-width="1.2" />
<line x1="584.5" y1="72.3" x2="584.5" y2="347" stroke="#000" stroke-width="1.1" />
<line x1="597.5" y1="72.3" x2="597.5" y2="347" stroke="#000" stroke-width="1.1" />
<line x1="611.5" y1="72.3" x2="611.5" y2="347" stroke="#000" stroke-width="1.1" />
<line x1="610" y1="72.8" x2="613" y2="72.8" stroke="#000" stroke-width="1" />
<line x1="610" y1="346.8" x2="613" y2="346.8" stroke="#000" stroke-width="1" />
<text transform="translate(610.2,209.5) rotate(-90)" font-size="4.7" text-anchor="middle" fill="#000" font-weight="bold" stroke="#000" stroke-width="0.18">18.60</text>
<text transform="translate(582.9,78) rotate(-90)" font-size="4.7" text-anchor="middle" fill="#000" font-weight="bold" stroke="#000" stroke-width="0.18">0.65</text>
<text transform="translate(582.9,144.5) rotate(-90)" font-size="4.7" text-anchor="middle" fill="#000" font-weight="bold" stroke="#000" stroke-width="0.18">7.75</text>
<text transform="translate(582.9,210) rotate(-90)" font-size="4.7" text-anchor="middle" fill="#000" font-weight="bold" stroke="#000" stroke-width="0.18">0.40</text>
<text transform="translate(582.9,275) rotate(-90)" font-size="4.7" text-anchor="middle" fill="#000" font-weight="bold" stroke="#000" stroke-width="0.18">7.75</text>
<text transform="translate(582.9,341.5) rotate(-90)" font-size="4.7" text-anchor="middle" fill="#000" font-weight="bold" stroke="#000" stroke-width="0.18">0.65</text>
<text transform="translate(596,78) rotate(-90)" font-size="4.7" text-anchor="middle" fill="#000" font-weight="bold" stroke="#000" stroke-width="0.18">0.65</text>
<text transform="translate(596,123.6) rotate(-90)" font-size="4.7" text-anchor="middle" fill="#000" font-weight="bold" stroke="#000" stroke-width="0.18">5.15</text>
<text transform="translate(596,164.8) rotate(-90)" font-size="4.7" text-anchor="middle" fill="#000" font-weight="bold" stroke="#000" stroke-width="0.18">0.10</text>
<text transform="translate(596,187) rotate(-90)" font-size="4.7" text-anchor="middle" fill="#000" font-weight="bold" stroke="#000" stroke-width="0.18">2.50</text>
<text transform="translate(596,210) rotate(-90)" font-size="4.7" text-anchor="middle" fill="#000" font-weight="bold" stroke="#000" stroke-width="0.18">0.40</text>
<text transform="translate(596,251) rotate(-90)" font-size="4.7" text-anchor="middle" fill="#000" font-weight="bold" stroke="#000" stroke-width="0.18">4.65</text>
<text transform="translate(596,288.3) rotate(-90)" font-size="4.7" text-anchor="middle" fill="#000" font-weight="bold" stroke="#000" stroke-width="0.18">0.10</text>
<text transform="translate(596,313.4) rotate(-90)" font-size="4.7" text-anchor="middle" fill="#000" font-weight="bold" stroke="#000" stroke-width="0.18">3.00</text>
<text transform="translate(596,341.5) rotate(-90)" font-size="4.7" text-anchor="middle" fill="#000" font-weight="bold" stroke="#000" stroke-width="0.18">0.65</text>
<line x1="583.0" y1="76.2" x2="586.0" y2="73.2" stroke="#000" stroke-width="1.2" />
<line x1="583.0" y1="83.9" x2="586.0" y2="80.9" stroke="#000" stroke-width="1.2" />
<line x1="583.0" y1="208.5" x2="586.0" y2="205.5" stroke="#000" stroke-width="1.2" />
<line x1="583.0" y1="215.5" x2="586.0" y2="212.5" stroke="#000" stroke-width="1.2" />
<line x1="583.0" y1="339.5" x2="586.0" y2="336.5" stroke="#000" stroke-width="1.2" />
<line x1="583.0" y1="347.2" x2="586.0" y2="344.2" stroke="#000" stroke-width="1.2" />
<line x1="596.0" y1="76.2" x2="599.0" y2="73.2" stroke="#000" stroke-width="1.2" />
<line x1="596.0" y1="83.9" x2="599.0" y2="80.9" stroke="#000" stroke-width="1.2" />
<line x1="596.0" y1="166.8" x2="599.0" y2="163.8" stroke="#000" stroke-width="1.2" />
<line x1="596.0" y1="168.8" x2="599.0" y2="165.8" stroke="#000" stroke-width="1.2" />
<line x1="596.0" y1="208.5" x2="599.0" y2="205.5" stroke="#000" stroke-width="1.2" />
<line x1="596.0" y1="215.5" x2="599.0" y2="212.5" stroke="#000" stroke-width="1.2" />
<line x1="596.0" y1="289.5" x2="599.0" y2="286.5" stroke="#000" stroke-width="1.2" />
<line x1="596.0" y1="291.2" x2="599.0" y2="288.2" stroke="#000" stroke-width="1.2" />
<line x1="596.0" y1="339.5" x2="599.0" y2="336.5" stroke="#000" stroke-width="1.2" />
<line x1="596.0" y1="347.2" x2="599.0" y2="344.2" stroke="#000" stroke-width="1.2" />
<line x1="452.3" y1="12.7" x2="452.3" y2="49.4" stroke="#000" stroke-width="1.15" />
<line x1="452.3" y1="58.8" x2="452.3" y2="59.8" stroke="#000" stroke-width="1" />
<line x1="452.3" y1="69.8" x2="452.3" y2="70.8" stroke="#000" stroke-width="1" />
<path d="M448.4,13 L443.8,20.7 L448.4,28.2 Z" fill="none" stroke="#000" stroke-width="1"/>
<path d="M439.59999999999997,17.9 H436.34999999999997 Q433.7,17.9 433.7,20.7 Q433.7,23.5 436.34999999999997,23.5 H439.59999999999997" fill="none" stroke="#111" stroke-width="1.1"/>
<line x1="439.59999999999997" y1="17.4" x2="439.59999999999997" y2="24" stroke="#111" stroke-width="1.1" />
<line x1="473.4" y1="328" x2="473.4" y2="363.5" stroke="#000" stroke-width="1.15" />
<line x1="473.4" y1="384" x2="473.4" y2="385" stroke="#000" stroke-width="1" />
<line x1="473.4" y1="387.2" x2="473.4" y2="388.2" stroke="#000" stroke-width="1" />
<line x1="473.4" y1="394.9" x2="473.4" y2="431.9" stroke="#000" stroke-width="1.15" />
<path d="M469.7,416 L464.6,423.4 L469.7,431 Z" fill="none" stroke="#000" stroke-width="1"/>
<path d="M457.7,420.3 H454.45 Q451.8,420.3 451.8,423.5 Q451.8,426.7 454.45,426.7 H457.7" fill="none" stroke="#111" stroke-width="1.1"/>
<line x1="457.7" y1="419.8" x2="457.7" y2="427.2" stroke="#111" stroke-width="1.1" />
<text x="581.5" y="425.4" font-size="13.4" text-anchor="start" fill="#4a4a4a" font-weight="normal" textLength="43" lengthAdjust="spacingAndGlyphs" >PIANO</text>
<text x="646.3" y="425.4" font-size="13.4" text-anchor="start" fill="#4a4a4a" font-weight="normal" textLength="45.3" lengthAdjust="spacingAndGlyphs" >PRIMO</text>
</g>
</svg>
</body></html>
